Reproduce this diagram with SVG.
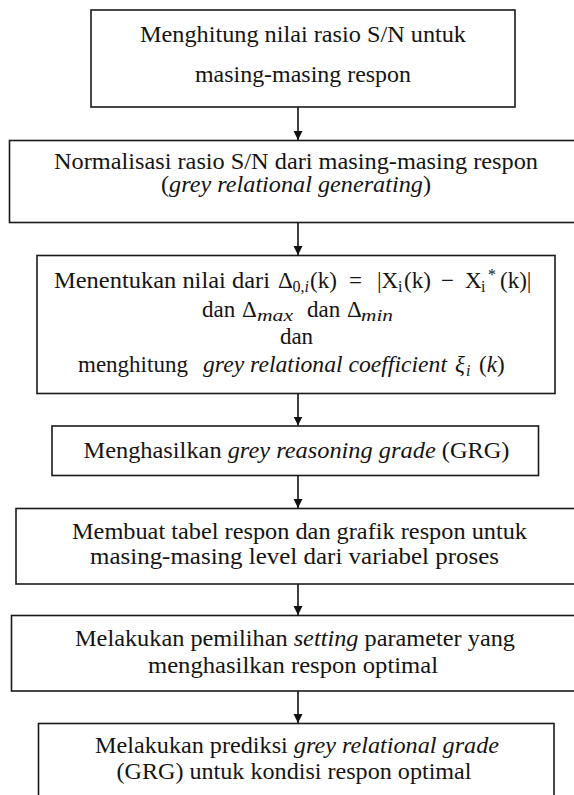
<svg xmlns="http://www.w3.org/2000/svg" width="574" height="795" viewBox="0 0 574 795">
  <defs>
    <marker id="arrow" markerWidth="10" markerHeight="10" refX="9" refY="4.5" orient="auto" markerUnits="userSpaceOnUse">
      <path d="M0,0 L9,4.5 L0,9 Z" fill="#111"/>
    </marker>
    <style>
      .box { fill: #fff; stroke: #1a1a1a; stroke-width: 1.6; }
      .t { font-family: 'Liberation Serif', 'DejaVu Serif', 'Noto Serif', serif; font-size: 23px; fill: #141414; }
      .c { text-anchor: middle; }
      .i { font-style: italic; }
      .sub { font-size: 16px; }
      .conn { stroke: #111; stroke-width: 1.6; fill: none; marker-end: url(#arrow); }
    </style>
  </defs>
  <rect width="574" height="795" fill="#fff"/>

  <g id="connectors">
    <line class="conn" x1="298" y1="107" x2="298" y2="140"/>
    <line class="conn" x1="298" y1="222.5" x2="298" y2="255"/>
    <line class="conn" x1="298" y1="393.5" x2="298" y2="425.5"/>
    <line class="conn" x1="298" y1="475.5" x2="298" y2="508"/>
    <line class="conn" x1="298" y1="584" x2="298" y2="615"/>
    <line class="conn" x1="298" y1="691" x2="298" y2="723"/>
  </g>

  <g id="node1">
    <rect class="box" x="91" y="10" width="424" height="97"/>
    <text class="t c" font-family="Liberation Serif, serif" x="303" y="41.5" textLength="326" lengthAdjust="spacingAndGlyphs">Menghitung nilai rasio S/N untuk</text>
    <text class="t c" font-family="Liberation Serif, serif" x="303" y="82" textLength="216" lengthAdjust="spacingAndGlyphs">masing-masing respon</text>
  </g>

  <g id="node2">
    <rect class="box" x="9.5" y="140.5" width="580" height="82"/>
    <text class="t c" x="296" y="168.5" textLength="484" lengthAdjust="spacingAndGlyphs">Normalisasi rasio S/N dari masing-masing respon</text>
    <text class="t c" x="296" y="192" textLength="270" lengthAdjust="spacingAndGlyphs">(<tspan class="i">grey relational generating</tspan>)</text>
  </g>

  <g id="node3">
    <rect class="box" x="37" y="255.5" width="518" height="138"/>
    <text class="t" y="288">
      <tspan x="54" textLength="216" lengthAdjust="spacingAndGlyphs">Menentukan nilai dari</tspan>
      <tspan x="278">Δ</tspan>
      <tspan class="sub" x="292.5" y="292">0,<tspan class="i">i</tspan></tspan>
      <tspan x="310" y="288">(k)</tspan>
      <tspan x="349">=</tspan>
      <tspan x="377">|X</tspan>
      <tspan class="sub" x="398" y="292">i</tspan>
      <tspan x="404" y="288">(k)</tspan>
      <tspan x="441">−</tspan>
      <tspan x="465">X</tspan>
      <tspan class="sub" x="481" y="292">i</tspan>
      <tspan class="sub" x="488" y="280">*</tspan>
      <tspan x="500" y="288">(k)|</tspan>
    </text>
    <text class="t" y="317">
      <tspan x="202">dan</tspan>
      <tspan x="242">Δ</tspan>
      <tspan class="sub i" x="257" y="321" textLength="36" lengthAdjust="spacingAndGlyphs">max</tspan>
      <tspan x="307" y="317">dan</tspan>
      <tspan x="347">Δ</tspan>
      <tspan class="sub i" x="361" y="321" textLength="32" lengthAdjust="spacingAndGlyphs">min</tspan>
    </text>
    <text class="t c" x="296.5" y="344">dan</text>
    <text class="t" y="372">
      <tspan x="78">menghitung</tspan>
      <tspan class="i" x="203" textLength="244" lengthAdjust="spacingAndGlyphs">grey relational coefficient</tspan>
      <tspan class="i" x="455">ξ</tspan>
      <tspan class="sub i" x="466" y="376">i</tspan>
      <tspan x="479" y="372">(<tspan class="i">k</tspan>)</tspan>
    </text>
  </g>

  <g id="node4">
    <rect class="box" x="52" y="426" width="486.5" height="49.5"/>
    <text class="t c" x="296.5" y="458" textLength="426" lengthAdjust="spacingAndGlyphs">Menghasilkan <tspan class="i">grey reasoning grade</tspan> (GRG)</text>
  </g>

  <g id="node5">
    <rect class="box" x="16" y="508.5" width="570" height="75.5"/>
    <text class="t c" x="299.5" y="539" textLength="455" lengthAdjust="spacingAndGlyphs">Membuat tabel respon dan grafik respon untuk</text>
    <text class="t c" x="294.5" y="564" textLength="409" lengthAdjust="spacingAndGlyphs">masing-masing level dari variabel proses</text>
  </g>

  <g id="node6">
    <rect class="box" x="11.5" y="615.5" width="575" height="75.5"/>
    <text class="t c" x="295" y="646" textLength="440" lengthAdjust="spacingAndGlyphs">Melakukan pemilihan <tspan class="i">setting</tspan> parameter yang</text>
    <text class="t c" x="293" y="673" textLength="290" lengthAdjust="spacingAndGlyphs">menghasilkan respon optimal</text>
  </g>

  <g id="node7">
    <rect class="box" x="38.5" y="723.5" width="515.5" height="85"/>
    <text class="t c" x="297" y="753" textLength="404" lengthAdjust="spacingAndGlyphs">Melakukan prediksi <tspan class="i">grey relational grade</tspan></text>
    <text class="t c" x="294" y="779" textLength="355" lengthAdjust="spacingAndGlyphs">(GRG) untuk kondisi respon optimal</text>
  </g>
</svg>
